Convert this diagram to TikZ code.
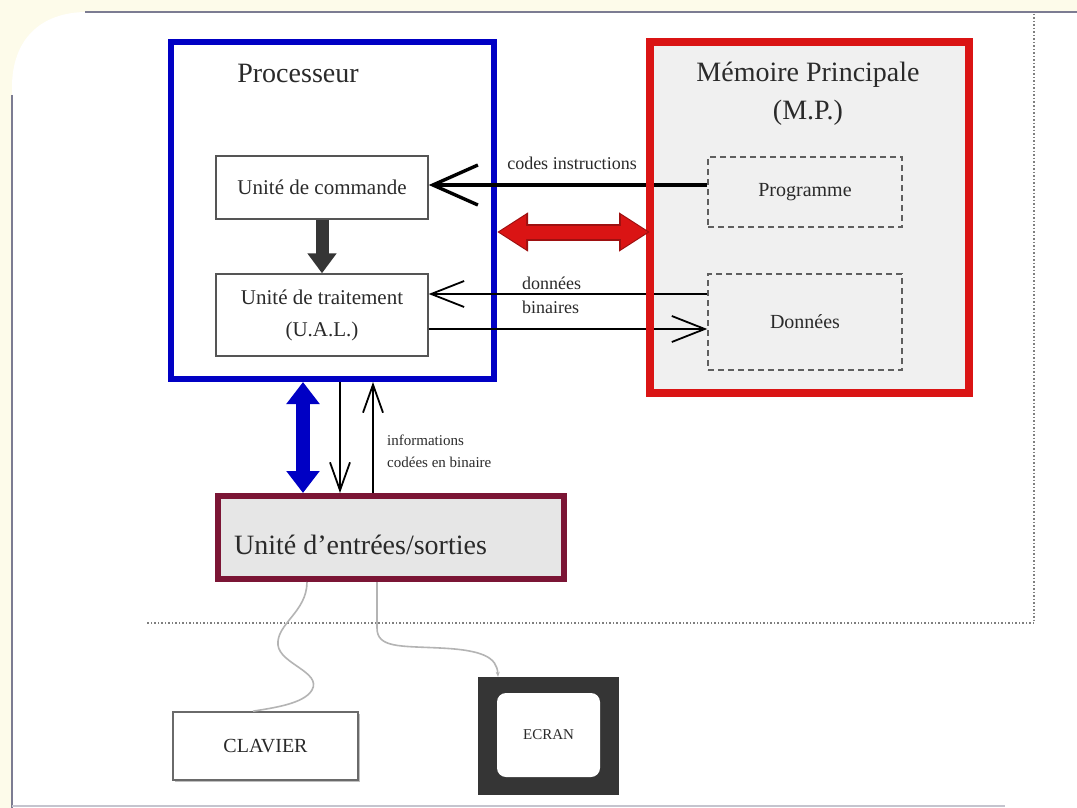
\documentclass[tikz,border=0pt]{standalone}
\usepackage{fontspec}
\setmainfont{Liberation Serif}
\usetikzlibrary{arrows.meta,calc}

\definecolor{ink}{HTML}{2A2A2A}
\definecolor{procblue}{HTML}{0000C4}
\definecolor{memred}{HTML}{DA1414}
\definecolor{darkred}{HTML}{9E1010}
\definecolor{iomaroon}{HTML}{7B1535}
\definecolor{memfill}{HTML}{F0F0F0}
\definecolor{iofill}{HTML}{E6E6E6}
\definecolor{cream}{HTML}{FDFBEA}
\definecolor{framegrey}{HTML}{7C7C92}
\definecolor{cablegrey}{HTML}{B4B4B4}

\newcommand{\fs}[1]{\fontsize{#1}{#1}\selectfont}

\tikzset{
  unitbox/.style={draw=ink!80, line width=1.4pt, fill=white, inner sep=0pt,
    minimum width=212pt, align=center, text=ink},
  membox/.style={draw=ink!75, dashed, dash pattern=on 6pt off 4pt, line width=1.5pt,
    fill=memfill, inner sep=0pt, minimum width=194pt, text=ink},
  label/.style={text=ink, inner sep=0pt},
  flow/.style={draw=black, line width=1.8pt},
  barb/.style={-{Straight Barb[length=33pt,width=26pt]}},
  cable/.style={draw=cablegrey, line width=1.6pt},
  frameline/.style={draw=framegrey, line width=2.6pt},
  zone/.style={draw=ink!60, line width=1.5pt, dotted}
}

\begin{document}
\begin{tikzpicture}[x=1pt,y=-1pt]
  % page and frame
  \useasboundingbox (0,0) rectangle (1077,808);
  \fill[cream] (0,0) rectangle (1077,808);
  \fill[white] (12,808) -- (12,87) .. controls (12,40) and (40,12) .. (87,12)
    -- (1077,12) -- (1077,808) -- cycle;
  \draw[frameline] (85,12) -- (1077,12);
  \draw[frameline] (12,95) -- (12,808);
  \draw[draw=framegrey!45, line width=2pt] (12,806) -- (1005,806);

  % computer boundary
  \coordinate (zc) at (1034,623);
  \draw[zone] (1034,14) -- (zc) -- (145,623);

  % processor
  \node[draw=procblue, line width=6pt, fill=white, inner sep=0pt,
        minimum width=323pt, minimum height=337pt] (proc) at (332.5,210.5) {};
  \node[label, font=\fs{28}] (proctitle) at (298,73) {Processeur};
  \node[unitbox, minimum height=63pt, font=\fs{21}] (cmd) at (322,187.5) {Unité de commande};
  \node[unitbox, minimum height=82pt, font=\fontsize{21}{32}\selectfont] (trt) at (322,315)
       {Unité de traitement\\(U.A.L.)};

  % main memory (fill first, border drawn after the buses)
  \node[fill=memfill, inner sep=0pt, outer sep=0pt,
        minimum width=319pt, minimum height=351pt] (mem) at (809.5,217.5) {};
  \node[label, align=center, font=\fontsize{28}{38}\selectfont] (memtitle) at (808,94)
       {Mémoire Principale\\(M.P.)};
  \node[membox, minimum height=70pt, font=\fs{20}] (prog) at (805,192) {Programme};
  \node[membox, minimum height=96pt, font=\fs{20}] (donn) at (805,322) {Données};

  % internal control arrow
  \draw[draw=ink!95, line width=13pt, -{Triangle[length=20pt,width=28pt]}]
       (cmd.south) -- (trt.north);

  % buses between processor and memory
  \draw[flow, line width=3.4pt, -{Straight Barb[length=45pt,width=40pt]}]
       (prog.west |- 0,185) -- (cmd.east |- 0,185);
  \node[label, font=\fs{18}] (lcodes) at (572,163) {codes instructions};
  \draw[flow, barb] (donn.west |- 0,294) -- (trt.east |- 0,294);
  \draw[flow, barb] (trt.east |- 0,329) -- (donn.west |- 0,329);
  \node[label, anchor=west, align=left, font=\fontsize{18}{24}\selectfont] (ldonn)
       at (522,295) {données\\binaires};

  \draw[draw=memred, line width=8pt] (mem.south west) rectangle (mem.north east);
  % two-way memory bus: dark outline underneath, red body on top
  \draw[draw=darkred, line width=17pt,
        {Triangle[length=31pt,width=37pt]}-{Triangle[length=31pt,width=37pt]}]
       (proc.east |- 0,232) -- (mem.west |- 0,232);
  \draw[draw=memred, line width=13pt, shorten <=2pt, shorten >=2pt,
        {Triangle[length=27pt,width=32pt]}-{Triangle[length=27pt,width=32pt]}]
       (proc.east |- 0,232) -- (mem.west |- 0,232);

  % input/output unit
  \node[draw=iomaroon, line width=6pt, fill=iofill, inner sep=0pt,
        minimum width=346pt, minimum height=83pt] (io) at (391,537.5) {};
  \node[label, anchor=west, font=\fs{28}] (iotitle) at (234,545) {Unité d’entrées/sorties};

  \draw[draw=procblue, line width=14pt,
        {Triangle[length=22pt,width=32pt]}-{Triangle[length=22pt,width=32pt]}]
       (proc.south -| 303,0) -- (io.north -| 303,0);
  \draw[flow, line width=1.8pt, -{Straight Barb[length=28pt,width=20pt]}]
       (proc.south -| 340,0) -- (io.north -| 340,0);
  \draw[flow, line width=1.8pt, -{Straight Barb[length=28pt,width=20pt]}]
       (io.north -| 373,0) -- (proc.south -| 373,0);
  \node[label, anchor=west, align=left, font=\fontsize{15}{22}\selectfont] (linfo)
       at (387,451) {informations\\codées en binaire};

  % peripherals
  \fill[black!25] (175,714) rectangle (360,782);
  \node[draw=ink!70, line width=1.6pt, fill=white, inner sep=0pt,
        minimum width=185pt, minimum height=68pt, text=ink, font=\fs{20}]
       (clav) at (265.5,746) {CLAVIER};
  \node[fill=ink!95, inner sep=0pt, minimum width=141pt, minimum height=118pt]
       (ecran) at (548.5,736) {};
  \node[fill=white, rounded corners=9pt, inner sep=0pt, minimum width=103pt,
        minimum height=84pt, text=ink, font=\fs{15}] (ecranin) at (548.5,735) {ECRAN};

  % cables
  \draw[cable] (io.south -| 307,0) .. controls (307,612) and (276,624) .. (278,645)
       .. controls (280,664) and (322,672) .. (312,690)
       .. controls (304,704) and (272,708) .. (clav.north -| 253,0);
  \draw[cable, -{Stealth[length=5pt,width=4pt]}] (io.south -| 377,0) -- (377,628)
       .. controls (377,648) and (400,646) .. (440,648)
       .. controls (482,650) and (497,657) .. (ecran.north -| 498,0);
\end{tikzpicture}
\end{document}
